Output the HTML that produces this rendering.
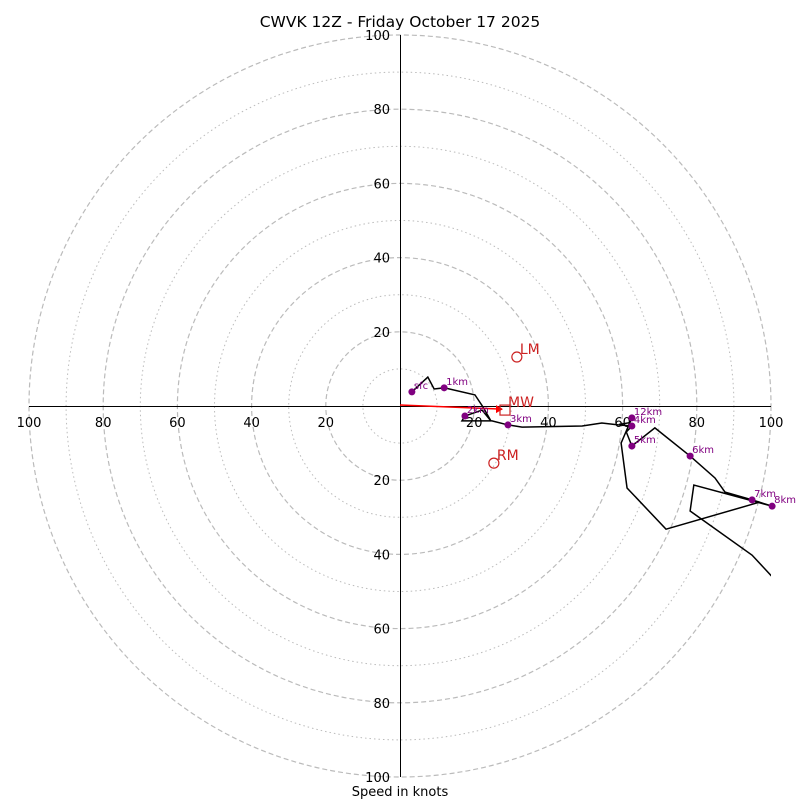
<!DOCTYPE html>
<html><head><meta charset="utf-8"><style>
body{margin:0;background:#fff}
svg{display:block;font-family:"DejaVu Sans","Liberation Sans",sans-serif}
</style></head><body>
<svg id="c" width="800" height="800"></svg>
<script>
const ringValues=[10,20,30,40,50,60,70,80,90,100];
const tickLabels=[20,40,60,80,100];
const profileU=[3.2,7.5,9.2,11.9,20.2,22.4,24.5,22.1,17.5,16.7,24.8,29.1,32.9,49.1,54.4,58.8,62.5,61.0,62.5,68.7,78.2,84.9,87.6,94.9,100.3,79.2,78.2,94.9,100.3];
const profileV=[3.8,7.8,4.6,4.9,3.0,-0.3,-4.0,-1.1,-2.7,-4.0,-4.0,-5.1,-5.7,-5.4,-4.6,-5.1,-5.4,-7.0,-10.8,-5.9,-13.5,-19.4,-23.2,-25.3,-27.0,-21.3,-28.3,-40.2,-46.0];
const loopU=[97,71.7,61.2,59.6,62.5,61.8,59.0];
const loopV=[-25.9,-33.2,-22.1,-10.0,-3.2,-4.5,-5.0];
const heightLabels=["sfc","1km","2km","3km","4km","5km","6km","7km","8km","12km"];
const heightU=[3.2,11.9,17.5,29.1,62.5,62.5,78.2,94.9,100.3,62.5];
const heightV=[3.8,4.9,-2.7,-5.1,-5.4,-10.8,-13.5,-25.3,-27.0,-3.2];
const stormNames=["LM","RM","MW"];
const stormU=[31.5,25.3,28.3];
const stormV=[13.2,-15.4,-1.1];

const svg=document.getElementById('c');const NS='http://www.w3.org/2000/svg';
const cx=400,cy=406,k=3.71;
const X=u=>cx+u*k, Y=v=>cy-v*k;
function el(t,a,p){const e=document.createElementNS(NS,t);for(const n in a)e.setAttribute(n,a[n]);(p||svg).appendChild(e);return e;}
const defs=el('defs',{});const cp=el('clipPath',{id:'clip'},defs);el('rect',{x:29,y:35,width:742,height:742},cp);
const t=el('text',{x:400,y:27,'text-anchor':'middle','font-size':15.5});t.textContent='CWVK 12Z - Friday October 17 2025';

ringValues.forEach(r=>{const c=el('circle',{cx:cx,cy:cy,r:r*k,fill:'none',stroke:'#bbb','stroke-width':r%20?1:1.2,'stroke-dasharray':r%20?'1.5,3':'5,3'});
});
const ax=el('line',{x1:29,y1:cy+0.5,x2:771,y2:cy+0.5,stroke:'#000','stroke-width':1});
const ay=el('line',{x1:cx+0.5,y1:35,x2:cx+0.5,y2:777,stroke:'#000','stroke-width':1});
tickLabels.forEach(v=>{[-1,1].forEach(s=>{
 const a=el('text',{x:X(s*v),y:cy+21,'text-anchor':'middle','font-size':13});a.textContent=v;
 
 const b=el('text',{x:cx-10,y:Y(s*v)+5,'text-anchor':'end','font-size':13});b.textContent=v;
 });});
const xl=el('text',{x:400,y:796,'text-anchor':'middle','font-size':13});xl.textContent='Speed in knots';

const g=el('g',{'clip-path':'url(#clip)'});
const p1=el('polyline',{points:profileU.map((u,i)=>X(u)+','+Y(profileV[i])).join(' '),fill:'none',stroke:'#000','stroke-width':1.5},g);

const p2=el('polyline',{points:loopU.map((u,i)=>X(u)+','+Y(loopV[i])).join(' '),fill:'none',stroke:'#000','stroke-width':1.5},g);

const ar=el('line',{x1:cx,y1:cy-1,x2:X(stormU[2])-3,y2:Y(stormV[2])-1,stroke:'red','stroke-width':1.5});

const ah=el('polygon',{points:`${X(stormU[2])-2},${Y(stormV[2])-1} ${X(stormU[2])-9},${Y(stormV[2])-5} ${X(stormU[2])-9},${Y(stormV[2])+3}`,fill:'red'});

heightLabels.forEach((h,i)=>{
 const d=el('circle',{cx:X(heightU[i]),cy:Y(heightV[i]),r:3.5,fill:'purple'});
 
 const tx=el('text',{x:X(heightU[i])+2,y:Y(heightV[i])-3,'font-size':10,fill:'purple'});tx.textContent=h;
 });
stormNames.forEach((n,i)=>{
 const x=X(stormU[i]),y=Y(stormV[i]);let m;
 if(n==='MW')m=el('rect',{x:x-5,y:y-5,width:10,height:10,fill:'none',stroke:'#c22','stroke-width':1.2});
 else m=el('circle',{cx:x,cy:y,r:5,fill:'none',stroke:'#c22','stroke-width':1.2});
 
 const tx=el('text',{x:x+3,y:y-3,'font-size':14,fill:'#c22'});tx.textContent=n;
 });
</script>
</body></html>
